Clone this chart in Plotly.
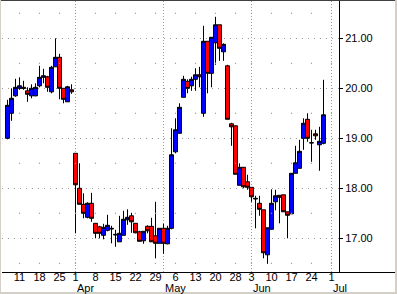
import pandas as pd
import plotly.graph_objects as go

# ---------------- data ----------------
holidays = ["2002-03-29", "2002-05-27"]
calendar = pd.bdate_range("2002-03-04", "2002-07-03", freq="C", holidays=holidays)
dates = pd.bdate_range("2002-03-06", "2002-06-27", freq="C", holidays=holidays)

open_ = [19.00, 19.50, 19.85, 20.00, 20.02, 19.95, 19.85, 19.85, 20.05, 20.22,
         20.23, 19.93, 20.43, 20.62, 20.00, 19.73, 19.97,
         18.70, 18.00, 17.68, 17.42, 17.70, 17.30, 17.23, 17.06, 17.16, 17.20,
         17.08, 16.93, 17.06, 17.37, 17.45, 17.30, 17.13, 16.95, 17.24, 17.24,
         17.05, 16.90,
         17.20, 16.89, 17.20, 18.73, 19.10, 19.82, 20.14, 20.05, 20.18, 20.27,
         19.50, 20.94, 20.30, 20.91, 21.27, 20.73, 20.45, 19.29, 19.25, 18.06,
         18.42, 18.13,
         18.02, 17.80, 17.70, 17.57, 16.67, 17.18, 17.73, 17.86, 17.87, 17.53,
         17.49, 18.30, 18.40, 19.00, 19.38, 18.91, 19.09, 18.87, 18.90]
high = [19.77, 20.00, 20.19, 20.22, 20.15, 20.02, 20.08, 20.10, 20.45, 20.39,
        20.25, 20.45, 21.00, 20.69, 20.00, 20.05, 20.08,
        18.70, 18.50, 17.90, 17.72, 17.91, 17.30, 17.25, 17.29, 17.47, 17.25,
        17.17, 17.45, 17.55, 17.58, 17.51, 17.30, 17.15, 17.14, 17.26, 17.41,
        17.73, 17.20,
        17.29, 17.25, 19.20, 19.40, 19.70, 20.25, 20.18, 20.23, 20.40, 20.43,
        21.25, 20.94, 21.02, 21.43, 21.27, 20.90, 20.47, 19.31, 19.25, 18.50,
        18.42, 18.27,
        18.02, 17.85, 17.85, 17.57, 17.21, 17.98, 17.97, 17.86, 17.87, 17.53,
        18.30, 18.85, 18.97, 19.40, 19.50, 19.17, 19.17, 19.23, 20.17]
low = [18.98, 19.35, 19.83, 19.97, 19.97, 19.73, 19.80, 19.84, 20.02, 20.10,
       19.93, 19.90, 20.43, 19.78, 19.70, 19.73, 19.89,
       17.10, 17.68, 17.40, 17.40, 17.33, 17.00, 17.00, 16.98, 17.14, 16.90,
       16.83, 16.93, 17.06, 17.27, 17.11, 17.10, 16.94, 16.89, 17.10, 16.93,
       16.60, 16.90,
       16.69, 16.88, 17.18, 18.70, 19.10, 19.82, 19.90, 19.95, 19.95, 20.02,
       19.43, 19.90, 20.02, 20.47, 20.55, 20.55, 19.38, 18.85, 18.28, 18.06,
       18.00, 17.97,
       17.73, 17.20, 17.45, 16.60, 16.49, 17.18, 17.56, 17.30, 17.53, 17.00,
       17.49, 18.30, 18.40, 18.77, 18.93, 18.53, 18.97, 18.35, 18.88]
close = [19.66, 19.80, 20.02, 20.05, 20.00, 19.88, 20.00, 20.02, 20.22, 20.25,
         20.02, 20.42, 20.62, 20.00, 19.78, 20.03, 19.93,
         18.07, 17.68, 17.50, 17.70, 17.40, 17.10, 17.10, 17.22, 17.26, 17.19,
         17.07, 17.10, 17.38, 17.42, 17.33, 17.11, 16.94, 17.14, 17.15, 16.93,
         16.90, 17.20,
         16.90, 17.20, 18.67, 19.17, 19.62, 20.18, 20.00, 20.18, 20.27, 20.23,
         20.94, 20.30, 21.02, 21.27, 20.80, 20.88, 19.38, 19.23, 18.28, 18.42,
         18.03, 18.02,
         17.83, 17.79, 17.58, 16.71, 17.21, 17.70, 17.85, 17.82, 17.53, 17.46,
         18.30, 18.51, 18.74, 19.30, 19.00, 18.91, 19.05, 18.94, 19.47]

tick_dates = ["2002-03-11", "2002-03-18", "2002-03-25", "2002-04-01", "2002-04-08",
              "2002-04-15", "2002-04-22", "2002-04-29", "2002-05-06", "2002-05-13",
              "2002-05-20", "2002-05-28", "2002-06-03", "2002-06-10", "2002-06-17",
              "2002-06-24", "2002-07-01"]
tick_text = ["11", "18", "25", "1", "8", "15", "22", "29", "6", "13", "20", "28",
             "3", "10", "17", "24", "1"]
month_dates = ["2002-04-01", "2002-05-01", "2002-06-03", "2002-07-01"]
month_text = ["Apr", "May", "Jun", "Jul"]
y_ticks = [17, 18, 19, 20, 21]
y_half = [16.5, 17.5, 18.5, 19.5, 20.5, 21.5]

# ---------------- positions on the trading-day scale ----------------
x = calendar.get_indexer(dates)
tick_x = calendar.get_indexer(pd.to_datetime(tick_dates))
month_x = calendar.get_indexer(pd.to_datetime(month_dates))

# ---------------- layout geometry ----------------
W, H = 397, 294
L, R, T, B = 2, 58, 1, 22
PW, PH = W - L - R, H - T - B


def px(xp):
    return (xp - L) / PW


def py(yp):
    return (H - B - yp) / PH


GRID = "#9a9a9a"
FRAME = "#d4d0c8"

fig = go.Figure()

# sparse dots on the half-value lines at the weekly ticks
dot_x, dot_y = [], []
for v in y_half:
    for t in tick_x:
        dot_x.append(t)
        dot_y.append(v)
fig.add_trace(go.Scatter(x=dot_x, y=dot_y, mode="markers",
                         marker=dict(symbol="square", size=1.2, color=GRID),
                         hoverinfo="skip", showlegend=False))

fig.add_trace(go.Candlestick(
    x=x, open=open_, high=high, low=low, close=close,
    increasing=dict(fillcolor="#0000ff", line=dict(color="#000000", width=1)),
    decreasing=dict(fillcolor="#ff0000", line=dict(color="#000000", width=1)),
    whiskerwidth=0, showlegend=False,
))

shapes = []
for mx in month_x:
    shapes.append(dict(type="line", xref="x", yref="paper", x0=mx, x1=mx, y0=0, y1=1,
                       line=dict(color=GRID, width=1, dash="1px,2px"), layer="below"))
# window frame
shapes += [
    dict(type="rect", xref="paper", yref="paper", x0=px(0), x1=px(W), y0=py(1), y1=py(0),
         fillcolor="#404040", line=dict(width=0), layer="above"),
    dict(type="rect", xref="paper", yref="paper", x0=px(0), x1=px(1), y0=py(H), y1=py(0),
         fillcolor=FRAME, line=dict(width=0), layer="above"),
    dict(type="rect", xref="paper", yref="paper", x0=px(W - 2), x1=px(W), y0=py(H), y1=py(0),
         fillcolor=FRAME, line=dict(width=0), layer="above"),
    dict(type="rect", xref="paper", yref="paper", x0=px(0), x1=px(W), y0=py(H), y1=py(H - 2),
         fillcolor=FRAME, line=dict(width=0), layer="above"),
    dict(type="line", xref="paper", yref="paper", x0=px(L + PW), x1=px(W - 2),
         y0=py(H - B + 0.5), y1=py(H - B + 0.5), line=dict(color="#000000", width=1)),
]

annotations = []
for mx, mt in zip(month_x, month_text):
    annotations.append(dict(x=mx, xref="x", y=py(287.5), yref="paper", text=mt,
                            showarrow=False, xanchor="left", yanchor="middle",
                            xshift=-1, font=dict(size=11, color="#000000")))

fig.update_layout(
    width=W, height=H,
    margin=dict(l=L, r=R, t=T, b=B, pad=0),
    paper_bgcolor="#ffffff", plot_bgcolor="#ffffff",
    font=dict(family="Liberation Sans, Arial, sans-serif", size=11, color="#000000"),
    boxgap=0, boxgroupgap=0,
    shapes=shapes, annotations=annotations,
    showlegend=False,
    xaxis=dict(range=[0.625, 84.875], tickmode="array", tickvals=tick_x, ticktext=tick_text,
               showgrid=False, zeroline=False, showline=True, linecolor="#000000", linewidth=1,
               ticks="", rangeslider=dict(visible=False), fixedrange=True),
    yaxis=dict(range=[16.326, 21.746], side="right", tickmode="array", tickvals=y_ticks,
               tickformat=".2f", showgrid=True, gridcolor=GRID, griddash="1px,5px", gridwidth=1,
               zeroline=False, showline=True, linecolor="#000000", linewidth=1,
               ticks="outside", ticklen=3, tickcolor="#000000", fixedrange=True),
)

try:
    fig.update_xaxes(ticklabelstandoff=-5)
except (ValueError, TypeError):
    pass

fig.write_html("out.html")
